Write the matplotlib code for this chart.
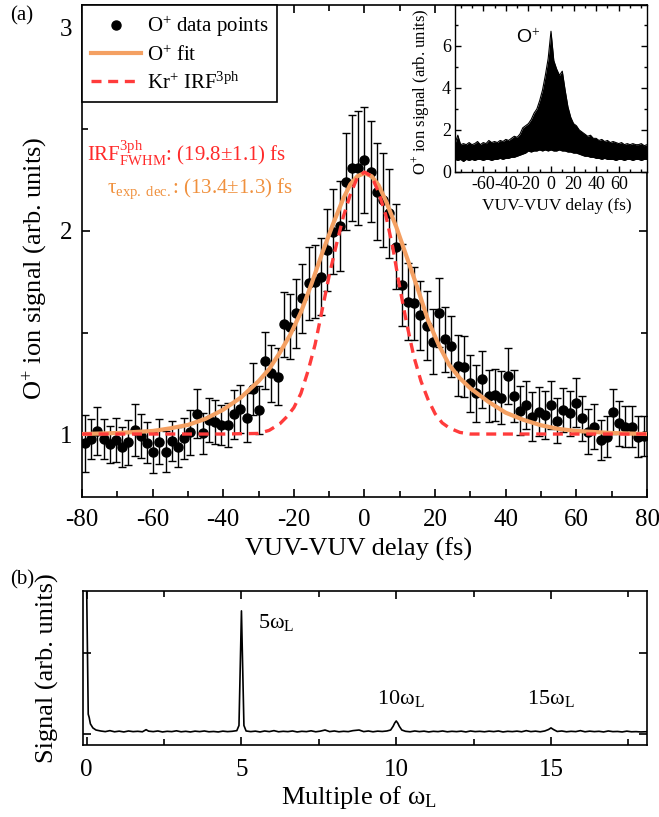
import matplotlib
matplotlib.use("Agg")
import matplotlib.pyplot as plt
from matplotlib.ticker import MultipleLocator, NullFormatter
import numpy as np

plt.rcParams['font.family'] = ['Liberation Serif', 'DejaVu Serif']
plt.rcParams['mathtext.fontset'] = 'custom'
plt.rcParams['mathtext.rm'] = 'Liberation Serif'
plt.rcParams['mathtext.it'] = 'Liberation Serif:italic'
plt.rcParams['mathtext.bf'] = 'Liberation Serif:bold'
plt.rcParams['axes.unicode_minus'] = False

# ---------------- data: panel (a) ----------------
delay = [-79.2, -77.4, -75.7, -73.9, -72.2, -70.4, -68.6, -66.9, -65.1, -63.4,
         -61.6, -59.8, -58.1, -56.3, -54.6, -52.8, -51.0, -49.3, -47.5, -45.8,
         -44.0, -42.2, -40.5, -38.7, -37.0, -35.2, -33.4, -31.7, -29.9, -28.2,
         -26.4, -24.6, -22.9, -21.1, -19.4, -17.6, -15.8, -14.1, -12.3, -10.6,
         -8.8, -7.0, -5.3, -3.5, -1.8, 0.0, 1.8, 3.5, 5.3, 7.0,
         8.8, 10.6, 12.3, 14.1, 15.8, 17.6, 19.4, 21.1, 22.9, 24.6,
         26.4, 28.2, 29.9, 31.7, 33.4, 35.2, 37.0, 38.7, 40.5, 42.2,
         44.0, 45.8, 47.5, 49.3, 51.0, 52.8, 54.6, 56.3, 58.1, 59.8,
         61.6, 63.4, 65.1, 66.9, 68.6, 70.4, 72.2, 73.9, 75.7, 77.4, 79.2]
signal = [0.954, 0.975, 1.015, 0.975, 0.949, 0.970, 0.937, 0.959, 1.020, 0.990,
          0.957, 0.910, 0.962, 0.913, 0.965, 0.937, 0.979, 1.008, 1.100, 1.003,
          1.069, 1.060, 1.044, 1.044, 1.097, 1.123, 1.080, 1.222, 1.118, 1.361,
          1.299, 1.282, 1.540, 1.529, 1.594, 1.668, 1.742, 1.750, 1.775, 1.906,
          1.997, 2.025, 2.243, 2.309, 2.309, 2.350, 2.292, 2.194, 2.153, 2.087,
          1.923, 1.734, 1.652, 1.644, 1.586, 1.534, 1.455, 1.598, 1.466, 1.433,
          1.337, 1.332, 1.250, 1.200, 1.269, 1.187, 1.192, 1.179, 1.286, 1.187,
          1.115, 1.143, 1.085, 1.110, 1.094, 1.143, 1.066, 1.118, 1.102, 1.154,
          1.077, 1.011, 1.036, 0.970, 0.987, 1.110, 1.053, 1.036, 1.036, 0.987, 0.990]
error = [0.14, 0.10, 0.12, 0.10, 0.09, 0.11, 0.10, 0.11, 0.13, 0.11,
         0.10, 0.10, 0.11, 0.10, 0.10, 0.10, 0.10, 0.11, 0.12, 0.10,
         0.11, 0.11, 0.10, 0.11, 0.12, 0.12, 0.12, 0.13, 0.12, 0.14,
         0.14, 0.14, 0.16, 0.16, 0.17, 0.17, 0.18, 0.18, 0.19, 0.20,
         0.21, 0.22, 0.24, 0.26, 0.28, 0.26, 0.25, 0.24, 0.23, 0.22,
         0.21, 0.20, 0.19, 0.18, 0.17, 0.17, 0.16, 0.17, 0.16, 0.15,
         0.15, 0.15, 0.14, 0.14, 0.14, 0.13, 0.13, 0.13, 0.14, 0.13,
         0.12, 0.12, 0.12, 0.12, 0.12, 0.12, 0.11, 0.11, 0.11, 0.12,
         0.11, 0.11, 0.11, 0.10, 0.10, 0.11, 0.11, 0.10, 0.10, 0.10, 0.10]

fit_delay = [-80, -70, -60, -55, -50, -45, -40, -35, -30, -27, -24, -21, -18, -15,
             -12, -9, -6, -4, -2, 0, 2, 4, 6, 9, 12, 15, 18, 21, 24, 27, 30, 35,
             40, 45, 50, 55, 60, 70, 80]
fit_signal = [1.000, 1.005, 1.015, 1.028, 1.045, 1.075, 1.120, 1.180, 1.260, 1.320,
              1.400, 1.490, 1.600, 1.740, 1.890, 2.030, 2.160, 2.230, 2.270, 2.285,
              2.270, 2.225, 2.150, 2.020, 1.870, 1.720, 1.560, 1.440, 1.340, 1.275,
              1.225, 1.160, 1.105, 1.070, 1.043, 1.025, 1.015, 1.005, 1.000]

irf_delay = [-80, -40, -30, -27, -24, -22, -20, -18, -16, -14, -12, -10, -8, -6, -4,
             -2, 0, 2, 4, 6, 8, 10, 12, 14, 16, 18, 20, 22, 24, 27, 30, 40, 80]
irf_signal = [1.000, 1.000, 1.003, 1.018, 1.050, 1.085, 1.130, 1.200, 1.310, 1.440,
              1.610, 1.780, 1.930, 2.070, 2.180, 2.265, 2.290, 2.270, 2.190, 2.080,
              1.920, 1.720, 1.540, 1.380, 1.260, 1.170, 1.100, 1.055, 1.030, 1.008,
              1.000, 1.000, 1.000]

# inset: envelope of the raw O+ trace
inset_delay = [-85, -82.5, -80, -77.5, -75, -72.5, -70, -67.5, -65, -62.5, -60, -57.5,
               -55, -52.5, -50, -47.5, -45, -42.5, -40, -37.5, -35, -32.5, -30, -27.5,
               -25, -22.5, -20, -17.5, -15, -12.5, -10, -7.5, -5, -2.5, 0, 2.5, 5, 7.5,
               10, 12.5, 15, 17.5, 20, 22.5, 25, 27.5, 30, 32.5, 35, 37.5, 40, 42.5,
               45, 47.5, 50, 52.5, 55, 57.5, 60, 62.5, 65, 67.5, 70, 72.5, 75, 77.5,
               80, 82.5, 85]
inset_upper = [1.35, 1.75, 1.30, 1.35, 1.30, 1.40, 1.30, 1.35, 1.45, 1.30, 1.40, 1.35,
               1.50, 1.40, 1.45, 1.40, 1.50, 1.45, 1.55, 1.50, 1.60, 1.70, 1.65, 1.80,
               2.10, 2.20, 2.30, 2.50, 2.80, 3.00, 3.40, 3.90, 4.60, 5.40, 6.70, 5.30,
               4.90, 4.60, 4.80, 3.90, 3.10, 2.60, 2.30, 2.20, 2.00, 1.90, 1.80, 1.70,
               1.75, 1.60, 1.60, 1.50, 1.55, 1.45, 1.50, 1.40, 1.45, 1.40, 1.35, 1.40,
               1.30, 1.35, 1.30, 1.35, 1.30, 1.30, 1.35, 1.25, 1.30]
inset_lower = [0.60, 0.55, 0.60, 0.50, 0.60, 0.55, 0.60, 0.55, 0.60, 0.60, 0.55, 0.60,
               0.60, 0.55, 0.60, 0.60, 0.65, 0.60, 0.65, 0.65, 0.70, 0.70, 0.75, 0.80,
               0.85, 0.90, 1.00, 0.95, 1.00, 1.00, 1.05, 1.00, 1.05, 1.00, 1.05, 1.00,
               1.00, 1.05, 1.00, 1.00, 0.95, 0.95, 0.90, 0.90, 0.85, 0.80, 0.75, 0.75,
               0.70, 0.70, 0.65, 0.65, 0.60, 0.65, 0.60, 0.60, 0.60, 0.55, 0.60, 0.60,
               0.55, 0.60, 0.60, 0.55, 0.60, 0.60, 0.55, 0.60, 0.60]

# ---------------- data: panel (b) ----------------
harmonic = [-0.04, -0.02, 0.00, 0.03, 0.05, 0.08, 0.12, 0.20, 0.30, 0.45, 0.60, 0.75,
            0.90, 1.05, 1.20, 1.35, 1.50, 1.65, 1.80, 1.92, 2.00, 2.15, 2.30, 2.45,
            2.60, 2.75, 2.90, 3.05, 3.20, 3.35, 3.50, 3.65, 3.80, 3.95, 4.10, 4.25,
            4.40, 4.55, 4.70, 4.85, 4.92, 4.96, 5.00, 5.04, 5.08, 5.15, 5.30, 5.45,
            5.60, 5.75, 5.90, 6.05, 6.20, 6.35, 6.50, 6.65, 6.80, 6.95, 7.10, 7.25,
            7.40, 7.55, 7.70, 7.85, 8.00, 8.15, 8.30, 8.45, 8.60, 8.80, 8.95, 9.10,
            9.25, 9.40, 9.55, 9.70, 9.82, 9.90, 9.95, 10.00, 10.05, 10.10, 10.18, 10.30,
            10.45, 10.60, 10.75, 10.90, 11.05, 11.20, 11.35, 11.50, 11.65, 11.80, 11.95,
            12.10, 12.25, 12.40, 12.55, 12.70, 12.85, 13.00, 13.15, 13.30, 13.45, 13.60,
            13.75, 13.90, 14.05, 14.20, 14.35, 14.50, 14.65, 14.80, 14.92, 15.00, 15.08,
            15.20, 15.35, 15.50, 15.65, 15.80, 15.95, 16.10, 16.25, 16.40, 16.55, 16.70,
            16.85, 17.00, 17.15, 17.30, 17.45, 17.60, 17.75, 17.90, 18.05, 18.20]
spectrum = [1.50, 1.20, 0.95, 0.40, 0.12, 0.10, 0.06, 0.035, 0.022, 0.016, 0.012, 0.018,
            0.011, 0.015, 0.010, 0.016, 0.012, 0.014, 0.011, 0.024, 0.015, 0.012, 0.016, 0.010,
            0.014, 0.012, 0.017, 0.011, 0.014, 0.010, 0.015, 0.012, 0.016, 0.011, 0.013, 0.010,
            0.015, 0.012, 0.014, 0.018, 0.050, 0.400, 0.760, 0.400, 0.050, 0.016, 0.012, 0.015,
            0.010, 0.016, 0.012, 0.018, 0.011, 0.014, 0.012, 0.016, 0.010, 0.014, 0.012, 0.017,
            0.011, 0.015, 0.022, 0.012, 0.016, 0.011, 0.014, 0.012, 0.018, 0.022, 0.012, 0.016,
            0.011, 0.015, 0.013, 0.016, 0.022, 0.045, 0.065, 0.078, 0.065, 0.045, 0.022, 0.014,
            0.011, 0.016, 0.012, 0.015, 0.010, 0.014, 0.012, 0.016, 0.011, 0.014, 0.012,
            0.015, 0.010, 0.016, 0.012, 0.014, 0.011, 0.015, 0.012, 0.016, 0.010, 0.014,
            0.012, 0.015, 0.011, 0.018, 0.012, 0.015, 0.011, 0.016, 0.025, 0.035, 0.025,
            0.013, 0.016, 0.011, 0.014, 0.012, 0.018, 0.011, 0.015, 0.012, 0.014, 0.010,
            0.016, 0.012, 0.013, 0.010, 0.015, 0.011, 0.012, 0.010, 0.011, 0.012]

assert len(delay) == len(signal) == len(error)
assert len(fit_delay) == len(fit_signal)
assert len(irf_delay) == len(irf_signal)
assert len(inset_delay) == len(inset_upper) == len(inset_lower)
assert len(harmonic) == len(spectrum)

ORANGE = '#F4A062'
RED = '#FF3B3B'

fig = plt.figure(figsize=(6.59, 8.17), dpi=100)

def style_axes(ax, lw=1.2, major=5.5, minor=4.0, size=18, pad=8):
    for s in ax.spines.values():
        s.set_linewidth(lw)
    ax.tick_params(which='both', direction='in', top=True, right=True, width=lw,
                   labelsize=size, pad=pad)
    ax.tick_params(which='major', length=major)
    ax.tick_params(which='minor', length=minor)

# ---------------- panel (a) ----------------
ax = fig.add_axes([0.1244, 0.3917, 0.8574, 0.6022])
ax.errorbar(delay, signal, yerr=error, fmt='none', ecolor='black', elinewidth=1.0,
            capsize=3.2, capthick=1.0, zorder=2)
ax.plot(delay, signal, 'o', color='black', ms=6.5, zorder=3, label='O$^{+}$ data points')
ax.plot(fit_delay, fit_signal, '-', color=ORANGE, lw=3.0, zorder=4, label='O$^{+}$ fit')
ax.plot(irf_delay, irf_signal, '--', color=RED, lw=2.4, dashes=(3.0, 2.0), zorder=5,
        label='Kr$^{+}$ IRF$^{\\rm 3ph}$')
ax.set_xlim(-80, 80)
ax.set_ylim(0.69, 3.113)
ax.xaxis.set_major_locator(MultipleLocator(20))
ax.xaxis.set_minor_locator(MultipleLocator(10))
ax.yaxis.set_major_locator(MultipleLocator(1))
ax.yaxis.set_minor_locator(MultipleLocator(0.5))
style_axes(ax, pad=9)
ax.tick_params(axis='y', pad=7)
ax.set_xlabel('VUV-VUV delay (fs)', fontsize=19)
ax.xaxis.set_label_coords(0.49, -0.082)
ax.set_ylabel('O$^{+}$ ion signal (arb. units)', fontsize=19)
ax.yaxis.set_label_coords(-0.058, 0.465)

leg = ax.legend(loc='upper left', bbox_to_anchor=(0, 1), borderaxespad=0,
                fontsize=15, frameon=True, fancybox=False, framealpha=1,
                edgecolor='black', handlelength=2.4, handletextpad=0.3,
                labelspacing=0.32, borderpad=0.42)
leg.get_frame().set_linewidth(1.2)

ax.text(-78.5, 2.38, 'IRF$^{\\rm 3ph}_{\\rm FWHM}$: (19.8±1.1) fs', color='#FF2A2A',
        fontsize=15, ha='left', va='center')
ax.text(-72.8, 2.21, 'τ$_{\\rm exp.\\ dec.}$: (13.4±1.3) fs', color='#F0913E',
        fontsize=15, ha='left', va='center')

# inset
axi = fig.add_axes([0.6904, 0.7895, 0.2914, 0.2044])
axi.fill_between(inset_delay, inset_lower, inset_upper, color='black', lw=0)
axi.plot(inset_delay, inset_upper, color='black', lw=0.8)
axi.plot(inset_delay, inset_lower, color='black', lw=0.8)
axi.set_xlim(-85, 85)
axi.set_ylim(0, 7.95)
axi.set_xticks([-60, -40, -20, 0, 20, 40, 60])
axi.xaxis.set_minor_locator(MultipleLocator(10))
axi.set_yticks([0, 2, 4, 6])
axi.yaxis.set_minor_locator(MultipleLocator(1))
style_axes(axi, lw=1.0, major=4, minor=2.5, size=13, pad=3)
axi.set_xlabel('VUV-VUV delay (fs)', fontsize=12.5)
axi.xaxis.set_label_coords(0.53, -0.155)
axi.set_ylabel('O$^{+}$ ion signal (arb. units)', fontsize=12)
axi.yaxis.set_label_coords(-0.12, 0.48)
axi.text(-20, 6.4, 'O$^{+}$', fontsize=14, ha='center', va='center',
         family=['Liberation Sans', 'DejaVu Sans'])

# ---------------- panel (b) ----------------
axb = fig.add_axes([0.1259, 0.0881, 0.8558, 0.1885])
axb.plot(harmonic, spectrum, color='black', lw=1.2)
axb.set_xlim(-0.12, 18.1)
axb.set_ylim(-0.071, 0.883)
axb.xaxis.set_major_locator(MultipleLocator(5))
axb.xaxis.set_minor_locator(MultipleLocator(2.5))
axb.set_yticks([0, 0.5])
axb.yaxis.set_major_formatter(NullFormatter())
style_axes(axb, pad=10)
axb.tick_params(axis='y', which='both', labelleft=False)
axb.set_xlabel('Multiple of ω$_{\\rm L}$', fontsize=19)
axb.xaxis.set_label_coords(0.49, -0.255)
axb.set_ylabel('Signal (arb. units)', fontsize=19)
axb.yaxis.set_label_coords(-0.042, 0.5)
axb.text(5.55, 0.69, '5ω$_{\\rm L}$', fontsize=16, ha='left', va='center')
axb.text(10.15, 0.22, '10ω$_{\\rm L}$', fontsize=16, ha='center', va='center')
axb.text(15.0, 0.22, '15ω$_{\\rm L}$', fontsize=16, ha='center', va='center')

fig.text(22 / 659, 1 - 16 / 817, '(a)', fontsize=15, ha='center', va='center')
fig.text(22 / 659, 1 - 580 / 817, '(b)', fontsize=15, ha='center', va='center')

fig.savefig('out.png', dpi=100)
